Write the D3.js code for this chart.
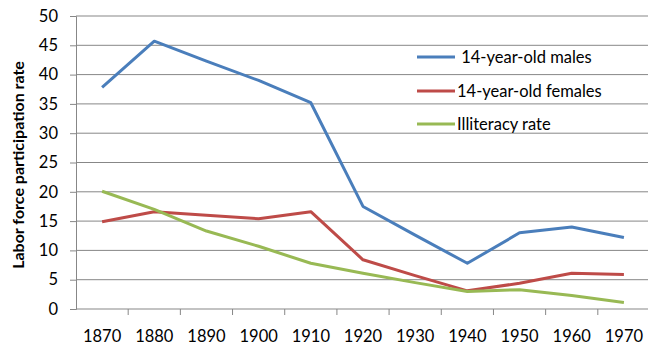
<!DOCTYPE html>
<html>
<head>
<meta charset="utf-8">
<script src="https://cdn.jsdelivr.net/npm/d3@7"></script>
<style>
  body { margin: 0; background: #fff; }
  svg text { font-family: Lato, "Open Sans", sans-serif; fill: #000; }
</style>
</head>
<body>
<svg id="chart" width="648" height="345"></svg>
<script>

// Chart data
const years = ["1870", "1880", "1890", "1900", "1910", "1920", "1930", "1940", "1950", "1960", "1970"];
const males = [37.8, 45.7, 42.3, 39.0, 35.2, 17.5, 12.6, 7.8, 13.0, 14.0, 12.2];
const females = [14.9, 16.6, 16.0, 15.4, 16.6, 8.4, 5.7, 3.1, 4.4, 6.1, 5.9];
const illiteracy = [20.1, 17.0, 13.3, 10.7, 7.8, 6.1, 4.5, 3.0, 3.3, 2.3, 1.1];
const yTicks = [0, 5, 10, 15, 20, 25, 30, 35, 40, 45, 50];

const series = [
    {name: " 14-year-old males", values: males, colour: "#4a7ebb"},
    {name: "14-year-old females", values: females, colour: "#be4b48"},
    {name: "Illiteracy rate", values: illiteracy, colour: "#98b954"}
];

const svg = d3.select("#chart");

// Scales
const x = d3.scaleBand().domain(years).range([76, 650]);
const y = d3.scaleLinear().domain([0, 50]).range([309, 16]);

// Gridlines
svg.append("g")
    .selectAll("line")
    .data(yTicks.slice(1))
    .join("line")
    .attr("x1", 76).attr("x2", 650)
    .attr("y1", d => y(d)).attr("y2", d => y(d))
    .attr("stroke", "#878787")
    .attr("stroke-width", 1);

// Y axis
const yAxis = svg.append("g")
    .attr("transform", "translate(76,0)")
    .call(d3.axisLeft(y).tickValues(yTicks).tickSize(6).tickPadding(12));
yAxis.select(".domain").attr("stroke", "#878787");
yAxis.selectAll(".tick line").attr("stroke", "#878787");
yAxis.selectAll("text").style("font-size", "16.5px");

// X axis, ticks on category boundaries
const xAxis = svg.append("g")
    .attr("transform", "translate(0,309)")
    .call(d3.axisBottom(x).tickSize(0).tickPadding(21));
xAxis.select(".domain").attr("stroke", "#878787").attr("d", "M76,0H650");
xAxis.selectAll("text").style("font-size", "16.5px");
svg.append("g")
    .selectAll("line")
    .data(years.slice(1))
    .join("line")
    .attr("x1", d => x(d)).attr("x2", d => x(d))
    .attr("y1", 309).attr("y2", 315)
    .attr("stroke", "#878787");

// Y label
svg.append("text")
    .attr("transform", "translate(24,165) rotate(-90)")
    .attr("text-anchor", "middle")
    .style("font-size", "16px")
    .style("font-weight", "bold")
    .text("Labor force participation rate");

// Lines
const line = d3.line()
    .x((d, i) => x(years[i]) + x.bandwidth() / 2)
    .y(d => y(d));
svg.append("g")
    .selectAll("path")
    .data(series)
    .join("path")
    .attr("d", d => line(d.values))
    .attr("fill", "none")
    .attr("stroke", d => d.colour)
    .attr("stroke-width", 3)
    .attr("stroke-linejoin", "round");

// Legend
const legendRows = [57, 91, 124];
const legend = svg.append("g")
    .selectAll("g")
    .data(series)
    .join("g")
    .attr("transform", (d, i) => `translate(417,${legendRows[i]})`);
legend.append("line")
    .attr("x1", 0).attr("x2", 38)
    .attr("stroke", d => d.colour)
    .attr("stroke-width", 3);
legend.append("text")
    .attr("x", 40)
    .attr("dy", "0.35em")
    .style("font-size", "16.5px")
    .style("white-space", "pre")
    .attr("xml:space", "preserve")
    .text(d => d.name);

</script>
</body>
</html>
